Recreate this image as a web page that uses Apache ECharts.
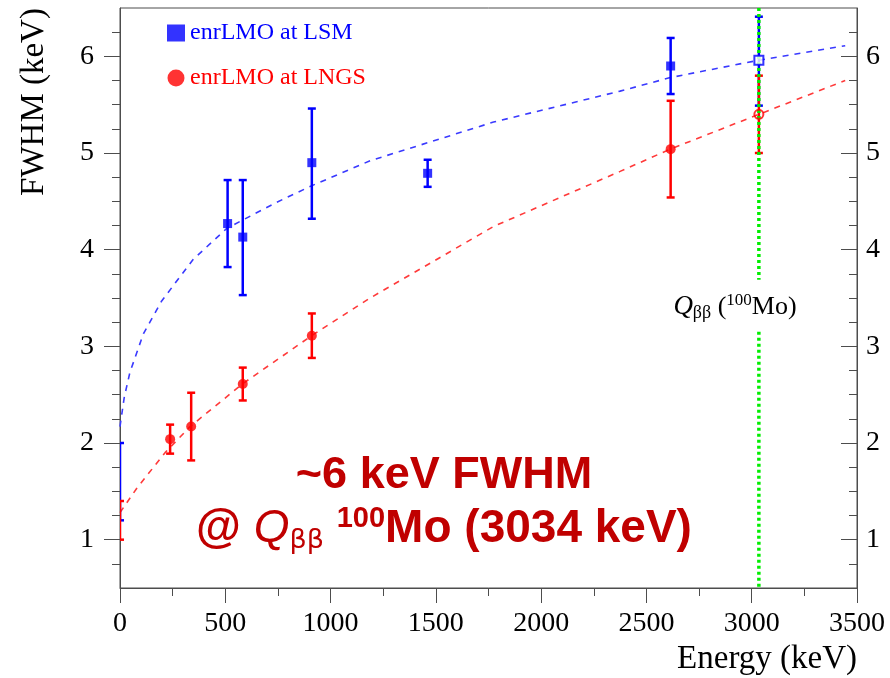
<!DOCTYPE html>
<html>
<head>
<meta charset="utf-8">
<script src="https://cdn.jsdelivr.net/npm/echarts@6/dist/echarts.min.js"></script>
<style>
  html, body { margin: 0; padding: 0; background: #fff; }
  #main { width: 890px; height: 678px; }
</style>
</head>
<body>
<div id="main"></div>
<script>
// 数据
var lsmE   = [511, 583, 911, 1461, 2615];
var lsmV   = [4.27, 4.13, 4.90, 4.79, 5.90];
var lsmLo  = [3.82, 3.53, 4.32, 4.65, 5.61];
var lsmHi  = [4.72, 4.72, 5.46, 4.93, 6.19];

var lngsE  = [238, 338, 583, 911, 2615];
var lngsV  = [2.04, 2.17, 2.61, 3.11, 5.04];
var lngsLo = [1.89, 1.82, 2.44, 2.88, 4.54];
var lngsHi = [2.19, 2.52, 2.78, 3.34, 5.54];

// baseline (0 keV) bars, drawn without marker
var baseE    = [0, 0];
var baseLo   = [1.2, 1.0];
var baseHi   = [2.0, 1.4];

// extrapolated values at Qbb
var qbbE      = 3034;
var qbbLsm    = [5.96, 5.49, 6.41];
var qbbLngs   = [5.40, 5.00, 5.80];
var qbbGap    = [3.15, 3.69];

// dashed fit curves
var blueFitE = [0, 20, 47, 111, 198, 348, 507, 744, 909, 1188, 1774, 2375, 2613, 3034, 3444];
var blueFitV = [2.17, 2.47, 2.73, 3.13, 3.47, 3.90, 4.22, 4.49, 4.66, 4.92, 5.32, 5.64, 5.78, 5.96, 6.11];
var redFitE  = [0, 79, 214, 333, 581, 903, 1188, 1774, 2375, 2613, 3034, 3444];
var redFitV  = [1.28, 1.53, 1.90, 2.17, 2.61, 3.10, 3.50, 4.24, 4.81, 5.04, 5.40, 5.75];

var yMajor = [1, 2, 3, 4, 5, 6];
var yMinor = [0.75, 1.25, 1.5, 1.75, 2.25, 2.5, 2.75, 3.25, 3.5, 3.75, 4.25, 4.5, 4.75, 5.25, 5.5, 5.75, 6.25];

var BLUE = '#0000ff', RED = '#ff0000', AXIS = '#4d4d4d';
var SERIF = '"Liberation Serif", "Times New Roman", serif';
var SANS = '"Liberation Sans", Arial, sans-serif';

var myChart = echarts.init(document.getElementById('main'));

function zip(a, b) {
    return a.map(function(v, i) { return [v, b[i]]; });
}
function zip3(a, b, c) {
    return a.map(function(v, i) { return [v, b[i], c[i]]; });
}

function errSeries(data, color, z) {
    return {
        type: 'custom',
        clip: true,
        z: z,
        silent: true,
        data: data,
        encode: { x: 0, y: [1, 2] },
        renderItem: function(params, api) {
            var x = api.value(0);
            var p1 = api.coord([x, api.value(1)]);
            var p2 = api.coord([x, api.value(2)]);
            var c = 4;
            var st = { stroke: color, lineWidth: 2.5 };
            return {
                type: 'group',
                children: [
                    { type: 'line', shape: { x1: p1[0], y1: p1[1], x2: p2[0], y2: p2[1] }, style: st },
                    { type: 'line', shape: { x1: p1[0] - c, y1: p1[1], x2: p1[0] + c, y2: p1[1] }, style: st },
                    { type: 'line', shape: { x1: p2[0] - c, y1: p2[1], x2: p2[0] + c, y2: p2[1] }, style: st }
                ]
            };
        }
    };
}

function yAx(pos, values, len, inside, label) {
    return {
        type: 'value',
        position: pos,
        min: 0.5,
        max: 6.5,
        splitLine: { show: false },
        axisLine: { show: label, lineStyle: { color: AXIS, width: 1 } },
        axisTick: { show: true, inside: inside, length: len, customValues: values, lineStyle: { color: AXIS } },
        axisLabel: {
            show: label,
            customValues: yMajor,
            color: '#000',
            fontFamily: SERIF,
            fontSize: 28,
            margin: pos === 'left' ? 26 : 9
        }
    };
}

var option = {
    animation: false,
    grid: {
        left: 120, right: 33, top: 8, bottom: 90,
        show: true, borderColor: AXIS, borderWidth: 1, backgroundColor: 'transparent'
    },
    legend: {
        orient: 'vertical',
        left: 162,
        top: 16,
        itemWidth: 18,
        itemHeight: 17,
        itemGap: 21,
        selectedMode: false,
        textStyle: { fontFamily: SERIF, fontSize: 24 },
        data: [
            { name: 'enrLMO at LSM', icon: 'rect', textStyle: { color: BLUE } },
            { name: 'enrLMO at LNGS', icon: 'circle', textStyle: { color: RED } }
        ]
    },
    xAxis: {
        type: 'value',
        min: 0,
        max: 3500,
        interval: 500,
        splitLine: { show: false },
        axisLine: { lineStyle: { color: AXIS, width: 1 } },
        axisTick: { length: 15, lineStyle: { color: AXIS } },
        minorTick: { show: true, splitNumber: 2, length: 8, lineStyle: { color: AXIS } },
        axisLabel: {
            color: '#000', fontFamily: SERIF, fontSize: 28, margin: 22,
            showMinLabel: true, showMaxLabel: true,
            formatter: function(v) { return String(v); }
        }
    },
    yAxis: [
        yAx('left', yMajor, 16, false, true),
        yAx('left', yMinor, 8, false, false),
        yAx('right', yMajor, 16, true, true),
        yAx('right', yMinor, 8, true, false)
    ],
    series: [
        {
            name: 'blueFit', type: 'line', smooth: false,
            showSymbol: false, silent: true, z: 2,
            lineStyle: { color: '#3a3aff', width: 1.6, type: [6, 6] },
            data: zip(blueFitE, blueFitV)
        },
        {
            name: 'redFit', type: 'line', smooth: false,
            showSymbol: false, silent: true, z: 2,
            lineStyle: { color: '#ff3a3a', width: 1.6, type: [6, 6] },
            data: zip(redFitE, redFitV)
        },
        errSeries(zip3(lsmE, lsmLo, lsmHi), BLUE, 3),
        errSeries(zip3(lngsE, lngsLo, lngsHi), RED, 3),
        errSeries([[baseE[0], baseLo[0], baseHi[0]]], BLUE, 3),
        errSeries([[baseE[1], baseLo[1], baseHi[1]]], RED, 4),
        errSeries([[qbbE, qbbLsm[1], qbbLsm[2]]], BLUE, 3),
        errSeries([[qbbE, qbbLngs[1], qbbLngs[2]]], RED, 4),
        {
            name: 'enrLMO at LSM', type: 'scatter', symbol: 'rect', symbolSize: 9, z: 5,
            itemStyle: { color: BLUE },
            data: zip(lsmE, lsmV)
        },
        {
            name: 'enrLMO at LNGS', type: 'scatter', symbol: 'circle', symbolSize: 10, z: 5,
            itemStyle: { color: RED },
            data: zip(lngsE, lngsV)
        },
        {
            name: 'qbbLsm', type: 'scatter', symbol: 'rect', symbolSize: 9, z: 7,
            itemStyle: { color: '#fff', borderColor: BLUE, borderWidth: 2 },
            data: [[qbbE, qbbLsm[0]]]
        },
        {
            name: 'qbbLngs', type: 'scatter', symbol: 'circle', symbolSize: 9, z: 7,
            itemStyle: { color: 'rgba(255,255,255,0)', borderColor: RED, borderWidth: 2 },
            data: [[qbbE, qbbLngs[0]]]
        },
        {
            name: 'qbbLine', type: 'line', showSymbol: false, silent: true, z: 6,
            lineStyle: { color: '#00ee00', width: 3.5, type: [3, 3] },
            data: [[qbbE, 6.5], [qbbE, qbbGap[1]], '-', [qbbE, qbbGap[0]], [qbbE, 0.5]]
        }
    ],
    graphic: [
        {
            type: 'text', x: 34, y: 102, rotation: Math.PI / 2,
            style: {
                text: 'FWHM (keV)', fill: '#000', font: '33px ' + SERIF,
                align: 'center', verticalAlign: 'middle'
            }
        },
        {
            type: 'text', x: 857, y: 659,
            style: {
                text: 'Energy (keV)', fill: '#000', font: '33px ' + SERIF,
                align: 'right', verticalAlign: 'middle'
            }
        },
        {
            type: 'text', x: 735, y: 307,
            style: {
                text: '{q|Q}{s|ββ}{n| (}{u|100}{n|Mo)}',
                align: 'center', verticalAlign: 'middle', fill: '#000',
                rich: {
                    q: { fontFamily: SERIF, fontStyle: 'italic', fontSize: 27, lineHeight: 30, verticalAlign: 'middle' },
                    n: { fontFamily: SERIF, fontSize: 26, lineHeight: 30, verticalAlign: 'middle' },
                    s: { fontFamily: SERIF, fontSize: 18, lineHeight: 16, verticalAlign: 'bottom' },
                    u: { fontFamily: SERIF, fontSize: 17, lineHeight: 16, verticalAlign: 'top' }
                }
            }
        },
        {
            type: 'text', x: 444, y: 476,
            style: {
                text: '~6 keV FWHM', fill: '#c00000',
                font: 'bold 45px ' + SANS,
                align: 'center', verticalAlign: 'middle'
            }
        },
        {
            type: 'text', x: 444, y: 529,
            style: {
                text: '{b|@ }{q|Q}{s|ββ}{b| }{u|100}{b|Mo (3034 keV)}',
                align: 'center', verticalAlign: 'middle', fill: '#c00000',
                rich: {
                    b: { fontFamily: SANS, fontWeight: 'bold', fontSize: 46, lineHeight: 50, verticalAlign: 'middle' },
                    q: { fontFamily: SANS, fontStyle: 'italic', fontSize: 46, lineHeight: 50, verticalAlign: 'middle' },
                    s: { fontFamily: '"DejaVu Sans", sans-serif', fontSize: 27, lineHeight: 26, verticalAlign: 'bottom' },
                    u: { fontFamily: SANS, fontWeight: 'bold', fontSize: 29, lineHeight: 28, verticalAlign: 'top' }
                }
            }
        }
    ]
};

myChart.setOption(option);
</script>
</body>
</html>
